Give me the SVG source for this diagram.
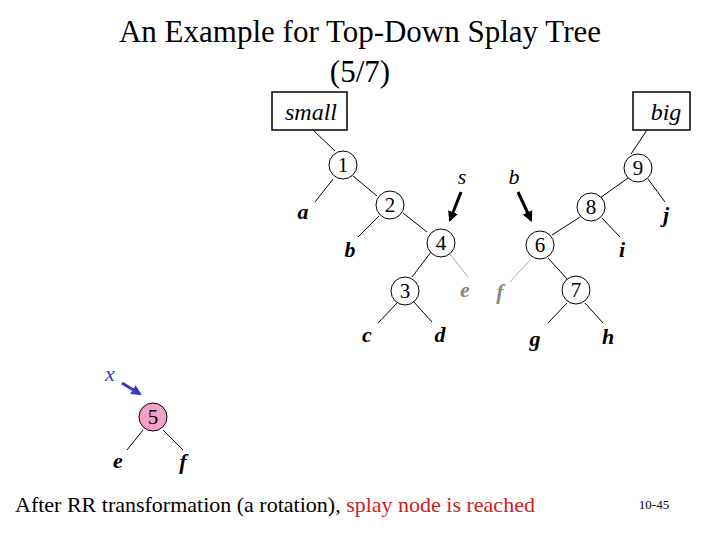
<svg xmlns="http://www.w3.org/2000/svg" width="720" height="540" viewBox="0 0 720 540">
<defs>
<style>
text{font-family:"Liberation Serif","Times New Roman","DejaVu Serif",serif}
.n circle{fill:#fff;stroke:#000;stroke-width:1}
.n text{font-size:21px;text-anchor:middle}
.l{font-size:22px;font-style:italic;font-weight:bold;text-anchor:middle}
.e line{stroke:#000;stroke-width:1}
.e line.g{stroke:#aaa}
</style>
<marker id="ah" viewBox="0 0 10 10" refX="8" refY="5" markerWidth="3.5" markerHeight="3.5" orient="auto"><path d="M0,0L10,5L0,10z" fill="#000"/></marker>
<marker id="ahb" viewBox="0 0 10 10" refX="8" refY="5" markerWidth="3.5" markerHeight="3.5" orient="auto"><path d="M0,0L10,5L0,10z" fill="#3838c0"/></marker>
</defs>
<rect width="720" height="540" fill="#fff"/>
<text x="360" y="42" font-size="31" text-anchor="middle">An Example for Top-Down Splay Tree</text>
<text x="360" y="82" font-size="31" text-anchor="middle">(5/7)</text>
<g id="small"><rect x="272" y="92" width="75" height="38" fill="#fff" stroke="#000" stroke-width="1.5"/><text x="311" y="120" font-size="24" font-style="italic" text-anchor="middle">small</text></g>
<g id="big"><rect x="633" y="92" width="57" height="38" fill="#fff" stroke="#000" stroke-width="1.5"/><text x="666" y="120" font-size="24" font-style="italic" text-anchor="middle">big</text></g>
<g class="e" id="connectors">
<line x1="313" y1="130" x2="335" y2="151"/>
<line x1="647" y1="130" x2="631" y2="154"/>
<line x1="333" y1="179" x2="315" y2="202"/>
<line x1="353" y1="176" x2="377" y2="196"/>
<line x1="379" y1="216" x2="358" y2="237"/>
<line x1="403" y1="213" x2="427" y2="232"/>
<line x1="431" y1="252" x2="412" y2="277"/>
<line class="g" x1="449" y1="253" x2="468" y2="277"/>
<line x1="398" y1="302" x2="378" y2="323"/>
<line x1="413" y1="301" x2="432" y2="322"/>
<line x1="628" y1="178" x2="600" y2="198"/>
<line x1="648" y1="179" x2="665" y2="202"/>
<line x1="580" y1="217" x2="552" y2="235"/>
<line x1="602" y1="218" x2="620" y2="237"/>
<line class="g" x1="530" y1="260" x2="510" y2="282"/>
<line x1="548" y1="258" x2="568" y2="280"/>
<line x1="567" y1="303" x2="548" y2="323"/>
<line x1="585" y1="303" x2="603" y2="323"/>
<line x1="143" y1="430" x2="127" y2="450"/>
<line x1="163" y1="430" x2="183" y2="450"/>
<line x1="461" y1="192" x2="450" y2="220" style="stroke-width:3" marker-end="url(#ah)"/>
<line x1="518" y1="192" x2="531" y2="220" style="stroke-width:3" marker-end="url(#ah)"/>
<line x1="122" y1="383" x2="140" y2="394" style="stroke:#3838c0;stroke-width:3" marker-end="url(#ahb)"/>
</g>
<g id="n1" class="n"><circle cx="343" cy="165" r="14"/><text x="343" y="172">1</text></g>
<g id="n2" class="n"><circle cx="390" cy="205" r="14"/><text x="390" y="212">2</text></g>
<g id="n4" class="n"><circle cx="441" cy="243" r="14"/><text x="441" y="250">4</text></g>
<g id="n3" class="n"><circle cx="405" cy="291" r="14"/><text x="405" y="298">3</text></g>
<g id="n6" class="n"><circle cx="540" cy="245" r="14"/><text x="540" y="252">6</text></g>
<g id="n7" class="n"><circle cx="576" cy="290" r="14"/><text x="576" y="297">7</text></g>
<g id="n8" class="n"><circle cx="591" cy="207" r="14"/><text x="591" y="214">8</text></g>
<g id="n9" class="n"><circle cx="638" cy="168" r="14"/><text x="638" y="175">9</text></g>
<g id="n5" class="n"><circle cx="153" cy="417" r="14" style="fill:#f4a0c8"/><text x="153" y="424">5</text></g>
<g id="labels">
<text class="l" x="303" y="219">a</text>
<text class="l" x="350" y="257">b</text>
<text class="l" x="367" y="342">c</text>
<text class="l" x="440" y="342">d</text>
<text class="l" x="465" y="297" fill="#888">e</text>
<text class="l" x="500" y="299" fill="#888">f</text>
<text class="l" x="535" y="346">g</text>
<text class="l" x="608" y="344">h</text>
<text class="l" x="622" y="257">i</text>
<text class="l" x="666" y="222">j</text>
<text class="l" x="462" y="184" style="font-weight:normal">s</text>
<text class="l" x="514" y="184" style="font-weight:normal">b</text>
<text class="l" x="110" y="381" fill="#3838c0" style="font-weight:normal">x</text>
<text class="l" x="118" y="468">e</text>
<text class="l" x="183" y="469">f</text>
</g>
<text x="15" y="512" font-size="22">After RR transformation (a rotation), <tspan fill="#d02020">splay node is reached</tspan></text>
<text x="654" y="509" font-size="13" text-anchor="middle">10-45</text>
</svg>
